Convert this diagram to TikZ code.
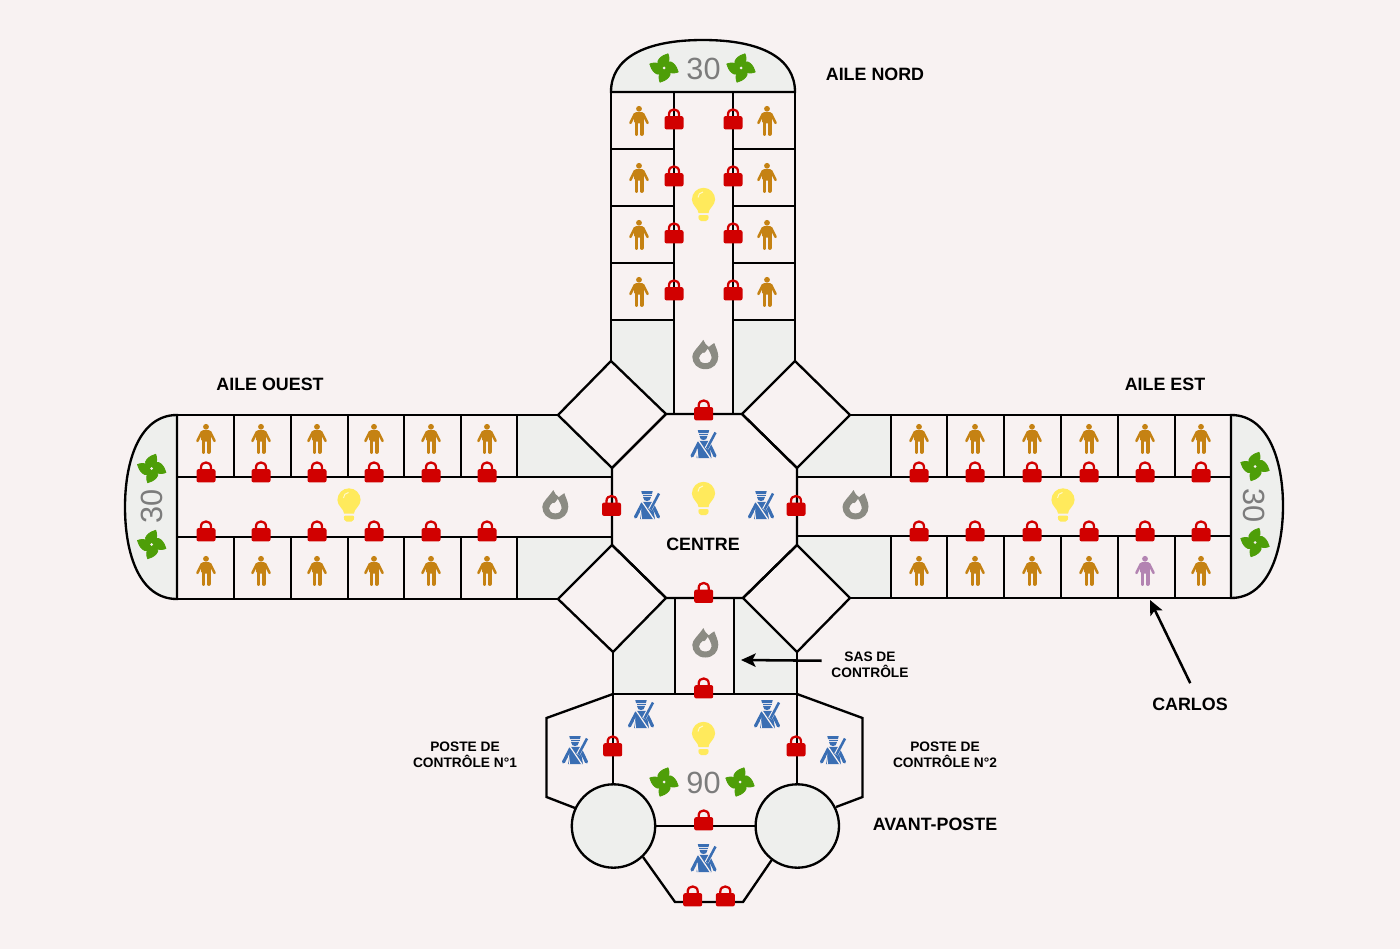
\documentclass[tikz,border=0pt]{standalone}
\usepackage{fontspec}
\setmainfont{Liberation Sans}
\usetikzlibrary{arrows.meta}

\definecolor{pagecolor}{HTML}{F8F2F2}
\definecolor{sascolor}{HTML}{EEEFED}
\definecolor{lockcolor}{HTML}{D10000}
\definecolor{personcolor}{HTML}{C58213}
\definecolor{carloscolor}{HTML}{B384B2}
\definecolor{bulbcolor}{HTML}{FFEA5C}
\definecolor{firecolor}{HTML}{8B8B83}
\definecolor{fancolor}{HTML}{4E9E08}
\definecolor{guardcolor}{HTML}{3A6EB3}
\definecolor{numbercolor}{HTML}{7C7C7C}

\tikzset{
  wall/.style={line width=1.75pt,line join=miter},
  wing/.style={wall,fill=sascolor},
  sasfill/.style={fill=sascolor,draw=none},
  wingtext/.style={inner sep=0.75pt,font=\bfseries\fontsize{13.4}{16}\selectfont},
  smalltext/.style={inner sep=0.75pt,align=center,font=\bfseries\fontsize{10.3}{12}\selectfont},
  numbertext/.style={inner sep=0pt,text=numbercolor,font=\fontsize{23}{24}\selectfont},
  arrowline/.style={line width=1.9pt,-{Stealth[length=11pt,width=10pt,inset=2.5pt]}},
  pics/lockicon/.style={code={
    \draw[lockcolor,line width=1.7pt] (-5,-1) -- (-5,-4.5) .. controls (-5,-11.2) and (5,-11.2) .. (5,-4.5) -- (5,-1);
    \fill[lockcolor,rounded corners=1.5pt] (-9.5,-2.9) rectangle (9.5,10.4);
  }},
  pics/personicon/.default=personcolor,
  pics/personicon/.style={code={
    \fill[#1] (0,-11.7) circle (2.9);
    \fill[#1,rounded corners=1.2pt] (-4.8,-8.3) rectangle (4.8,3);
    \draw[#1,line width=1.9pt,line cap=round] (-4,-6.8) -- (-8.6,2.5);
    \draw[#1,line width=1.9pt,line cap=round] (4,-6.8) -- (8.6,2.5);
    \draw[#1,line width=2.9pt,line cap=round] (-2.5,1) -- (-2.5,13.5);
    \draw[#1,line width=2.9pt,line cap=round] (2.6,1) -- (2.6,13.5);
  }},
  pics/bulbicon/.style={code={
    \fill[bulbcolor] (-5,8.5) -- (5,8.5) .. controls (5,4) and (11.6,1) .. (11.6,-5) .. controls (11.6,-11.5) and (6.4,-16.7) .. (0,-16.7) .. controls (-6.4,-16.7) and (-11.6,-11.5) .. (-11.6,-5) .. controls (-11.6,1) and (-5,4) .. (-5,8.5) -- cycle;
    \fill[bulbcolor,rounded corners=1.5pt] (-5.4,10.5) -- (5.4,10.5) -- (4.4,16.7) -- (-4.4,16.7) -- cycle;
    \draw[white!70!bulbcolor,line width=0.7pt] (-5.5,-7) .. controls (-5.5,-10) and (-3.5,-12) .. (-0.5,-12.5);
  }},
  pics/fireicon/.style={code={
    \fill[firecolor,even odd rule] (0,14.7) .. controls (-8,14.7) and (-13,9) .. (-13,2) .. controls (-13,-3) and (-7,-7) .. (-2,-14.7) .. controls (-1,-12) and (1,-9) .. (3.5,-7.5) .. controls (5,-9) and (7,-10) .. (9,-11.5) .. controls (10,-8) and (13,-3) .. (13,2) .. controls (13,9) and (8,14.7) .. (0,14.7) -- cycle
    (0,8.7) .. controls (-3.8,8.7) and (-6.3,6.5) .. (-6.3,3.7) .. controls (-6.3,1) and (-4,-0.5) .. (-2.5,-2) .. controls (-1,-0.5) and (1,-3.5) .. (2.5,-6) .. controls (4.5,-2.5) and (6.3,1) .. (6.3,3.7) .. controls (6.3,6.5) and (3.8,8.7) .. (0,8.7) -- cycle;
  }},
  pics/fanicon/.style={code={
    \foreach \bladeangle in {0,90,180,270}
      \filldraw[fancolor,line width=0.6pt,line join=round,rotate=\bladeangle] (0.5,0.5) .. controls (-7,-1) and (-7.5,-6.5) .. (-4.6,-9.3) .. controls (-2,-12) and (1,-13.5) .. (4,-14.2) .. controls (5.5,-11) and (5.5,-6) .. (2.7,-1.5) -- cycle;
    \fill[pagecolor] (0,0) circle (1.5);
  }},
  pics/guardicon/.style={code={
    \fill[guardcolor] (-5.7,-14.5) -- (5.7,-14.5) -- (5,-11.5) -- (-5,-11.5) -- cycle;
    \fill[guardcolor] (-4.5,-10.7) rectangle (4.5,-9.4);
    \fill[guardcolor] (-4,-8.6) -- (4,-8.6) .. controls (4,-5.5) and (2,-4.5) .. (0,-4.5) .. controls (-2,-4.5) and (-4,-5.5) .. (-4,-8.6) -- cycle;
    \fill[guardcolor] (-4.5,-3.6) -- (5,-3.6) -- (8,13.5) -- (-7,13.5) -- cycle;
    \draw[guardcolor,line width=2.4pt,line cap=round] (-4.5,-2) -- (-11.5,11.5);
    \draw[guardcolor,line width=2.4pt,line cap=round] (5,-2) -- (11.5,11.5);
    \draw[pagecolor,line width=0.9pt] (-4.8,-3.6) -- (7,13.8);
    \draw[pagecolor,line width=0.8pt] (-6.5,5) -- (-5.5,13.8);
    \draw[pagecolor,line width=3pt] (12,-12) -- (3,4);
    \draw[guardcolor,line width=1.9pt] (12,-12) -- (3.5,4);
  }}
}

\begin{document}
\begin{tikzpicture}[x=0.75pt,y=-0.75pt]
\fill[pagecolor] (0,0) rectangle (1400,949);
\useasboundingbox (0,0) rectangle (1400,949);

%Shape: gray corners north
\fill[sasfill] (611,320) -- (674,320) -- (674,414) -- (666,414) -- (611,361) -- cycle;
\fill[sasfill] (733,320) -- (795,320) -- (795,361) -- (742,414) -- (733,414) -- cycle;
%Shape: gray corners west
\fill[sasfill] (517,415) -- (558,415) -- (612,468) -- (612,477) -- (517,477) -- cycle;
\fill[sasfill] (517,537) -- (612,537) -- (612,545) -- (558,599) -- (517,599) -- cycle;
%Shape: gray corners east
\fill[sasfill] (891,415) -- (850,415) -- (797,468) -- (797,477) -- (891,477) -- cycle;
\fill[sasfill] (891,536) -- (797,536) -- (797,545) -- (850,598) -- (891,598) -- cycle;
%Shape: gray corners south
\fill[sasfill] (675,598) -- (675,694) -- (613,694) -- (613,652) -- (666,598) -- cycle;
\fill[sasfill] (734,598) -- (734,694) -- (797,694) -- (797,652) -- (743,598) -- cycle;

%Curve Lines: wing ends
\draw[wing] (611,92) .. controls (611,58) and (645,40) .. (703,40) .. controls (761,40) and (795,58) .. (795,92) -- cycle;
\draw[wing] (177,415) .. controls (140,415) and (125,460) .. (125,507) .. controls (125,555) and (140,599) .. (177,599) -- cycle;
\draw[wing] (1231,415) .. controls (1268,415) and (1283,460) .. (1283,506) .. controls (1283,552) and (1268,598) .. (1231,598) -- cycle;

%Straight Lines: north wing
\draw[wall] (611,92) -- (611,361);
\draw[wall] (795,92) -- (795,361);
\draw[wall] (674,92) -- (674,414);
\draw[wall] (733,92) -- (733,414);
\draw[wall] (611,149) -- (674,149);
\draw[wall] (611,206) -- (674,206);
\draw[wall] (611,263) -- (674,263);
\draw[wall] (611,320) -- (674,320);
\draw[wall] (733,149) -- (795,149);
\draw[wall] (733,206) -- (795,206);
\draw[wall] (733,263) -- (795,263);
\draw[wall] (733,320) -- (795,320);

%Straight Lines: west wing
\draw[wall] (177,415) -- (558,415);
\draw[wall] (177,477) -- (612,477);
\draw[wall] (177,537) -- (612,537);
\draw[wall] (177,599) -- (558,599);
\draw[wall] (234,415) -- (234,477);
\draw[wall] (291,415) -- (291,477);
\draw[wall] (348,415) -- (348,477);
\draw[wall] (404,415) -- (404,477);
\draw[wall] (461,415) -- (461,477);
\draw[wall] (517,415) -- (517,477);
\draw[wall] (234,537) -- (234,599);
\draw[wall] (291,537) -- (291,599);
\draw[wall] (348,537) -- (348,599);
\draw[wall] (404,537) -- (404,599);
\draw[wall] (461,537) -- (461,599);
\draw[wall] (517,537) -- (517,599);

%Straight Lines: east wing
\draw[wall] (850,415) -- (1231,415);
\draw[wall] (797,477) -- (1231,477);
\draw[wall] (797,536) -- (1231,536);
\draw[wall] (850,598) -- (1231,598);
\draw[wall] (891,415) -- (891,477);
\draw[wall] (947,415) -- (947,477);
\draw[wall] (1004,415) -- (1004,477);
\draw[wall] (1061,415) -- (1061,477);
\draw[wall] (1118,415) -- (1118,477);
\draw[wall] (1175,415) -- (1175,477);
\draw[wall] (891,536) -- (891,598);
\draw[wall] (947,536) -- (947,598);
\draw[wall] (1004,536) -- (1004,598);
\draw[wall] (1061,536) -- (1061,598);
\draw[wall] (1118,536) -- (1118,598);
\draw[wall] (1175,536) -- (1175,598);

%Shape: centre and its four diamonds
\draw[wall] (666,414) -- (742,414) -- (797,468) -- (797,545) -- (743,598) -- (666,598) -- (612,545) -- (612,468) -- cycle;
\draw[wall] (558,415) -- (611,361) -- (666,414) -- (612,468) -- cycle;
\draw[wall] (742,414) -- (795,361) -- (850,415) -- (797,468) -- cycle;
\draw[wall] (558,599) -- (612,545) -- (666,598) -- (613,652) -- cycle;
\draw[wall] (743,598) -- (797,545) -- (850,598) -- (797,652) -- cycle;

%Straight Lines: south sas and outpost
\draw[wall] (675,598) -- (675,694);
\draw[wall] (734,598) -- (734,694);
\draw[wall] (613,652) -- (613,785);
\draw[wall] (797,652) -- (797,785);
\draw[wall] (613,694) -- (797,694);
\draw[wall] (613,694) -- (546.5,718) -- (546.5,797) -- (575,808);
\draw[wall] (797,694) -- (862.5,718) -- (862.5,797) -- (836,807);
\draw[wall] (650,826) -- (760,826);
\draw[wall] (643,857) -- (675,902) -- (743,902) -- (771.7,860);
%Shape: Circle
\draw[wing] (613.5,826) circle (41.7);
\draw[wing] (797.3,826) circle (41.7);

%Locks
\pic at (674,119) {lockicon}; \pic at (733,119) {lockicon};
\pic at (674,176) {lockicon}; \pic at (733,176) {lockicon};
\pic at (674,233) {lockicon}; \pic at (733,233) {lockicon};
\pic at (674,290) {lockicon}; \pic at (733,290) {lockicon};
\pic at (703.7,410) {lockicon}; \pic at (703.7,592.5) {lockicon};
\pic at (611.5,505.5) {lockicon}; \pic at (796,505.5) {lockicon};
\pic at (206,472) {lockicon}; \pic at (261,472) {lockicon}; \pic at (317,472) {lockicon};
\pic at (374,472) {lockicon}; \pic at (431,472) {lockicon}; \pic at (487,472) {lockicon};
\pic at (206,531) {lockicon}; \pic at (261,531) {lockicon}; \pic at (317,531) {lockicon};
\pic at (374,531) {lockicon}; \pic at (431,531) {lockicon}; \pic at (487,531) {lockicon};
\pic at (919,472) {lockicon}; \pic at (975,472) {lockicon}; \pic at (1032,472) {lockicon};
\pic at (1089,472) {lockicon}; \pic at (1145,472) {lockicon}; \pic at (1201,472) {lockicon};
\pic at (919,531) {lockicon}; \pic at (975,531) {lockicon}; \pic at (1032,531) {lockicon};
\pic at (1089,531) {lockicon}; \pic at (1145,531) {lockicon}; \pic at (1201,531) {lockicon};
\pic at (703.7,688) {lockicon}; \pic at (612.7,746) {lockicon}; \pic at (796,746) {lockicon};
\pic at (703.7,820) {lockicon}; \pic at (692.7,896) {lockicon}; \pic at (725.3,896) {lockicon};

%Persons
\pic at (639,120.5) {personicon}; \pic at (767,120.5) {personicon};
\pic at (639,177.5) {personicon}; \pic at (767,177.5) {personicon};
\pic at (639,234.5) {personicon}; \pic at (767,234.5) {personicon};
\pic at (639,291.5) {personicon}; \pic at (767,291.5) {personicon};
\pic at (206,438.5) {personicon}; \pic at (261,438.5) {personicon}; \pic at (317,438.5) {personicon};
\pic at (374,438.5) {personicon}; \pic at (431,438.5) {personicon}; \pic at (487,438.5) {personicon};
\pic at (206,570.5) {personicon}; \pic at (261,570.5) {personicon}; \pic at (317,570.5) {personicon};
\pic at (374,570.5) {personicon}; \pic at (431,570.5) {personicon}; \pic at (487,570.5) {personicon};
\pic at (919,438.5) {personicon}; \pic at (975,438.5) {personicon}; \pic at (1032,438.5) {personicon};
\pic at (1089,438.5) {personicon}; \pic at (1145,438.5) {personicon}; \pic at (1201,438.5) {personicon};
\pic at (919,570.5) {personicon}; \pic at (975,570.5) {personicon}; \pic at (1032,570.5) {personicon};
\pic at (1089,570.5) {personicon}; \pic at (1145,570.5) {personicon=carloscolor}; \pic at (1201,570.5) {personicon};

%Bulbs
\pic at (703.5,204.5) {bulbicon}; \pic at (349,505) {bulbicon}; \pic at (703.5,498.5) {bulbicon};
\pic at (1063,505) {bulbicon}; \pic at (703.5,738.5) {bulbicon};

%Fires
\pic at (705.3,354.5) {fireicon}; \pic at (555.3,504.7) {fireicon};
\pic at (855.5,504.7) {fireicon}; \pic at (705.3,642.8) {fireicon};

%Fans
\pic at (664,68) {fanicon}; \pic at (741,68) {fanicon};
\pic at (151.7,468.5) {fanicon}; \pic at (151.7,544.5) {fanicon};
\pic at (1255,466.5) {fanicon}; \pic at (1255,542.5) {fanicon};
\pic at (664,782) {fanicon}; \pic at (740,782) {fanicon};

%Guards
\pic at (703.5,444.5) {guardicon}; \pic at (647,505.5) {guardicon}; \pic at (761,505.5) {guardicon};
\pic at (641,714.5) {guardicon}; \pic at (767,714.5) {guardicon};
\pic at (575,750.5) {guardicon}; \pic at (833,750.5) {guardicon}; \pic at (703.5,858.5) {guardicon};

% Text Node
\node[numbertext] (nordnumber) at (703.5,68.5) {30};
\node[numbertext,rotate=90] (ouestnumber) at (152,506) {30};
\node[numbertext,rotate=-90] (estnumber) at (1254,506) {30};
\node[numbertext] (postenumber) at (703.5,782.5) {90};
% Text Node
\node[wingtext] (nordlabel) at (875,74) {AILE NORD};
\node[wingtext] (ouestlabel) at (270,384.5) {AILE OUEST};
\node[wingtext] (estlabel) at (1165,384.5) {AILE EST};
\node[wingtext] (centrelabel) at (703,544.3) {CENTRE};
\node[wingtext] (avantlabel) at (935,824.5) {AVANT-POSTE};
\node[wingtext] (carloslabel) at (1190,704) {CARLOS};
% Text Node
\node[smalltext] (saslabel) at (870,665) {SAS DE\\CONTRÔLE};
\node[smalltext] (poste1label) at (465,755) {POSTE DE\\CONTRÔLE N°1};
\node[smalltext] (poste2label) at (945,755) {POSTE DE\\CONTRÔLE N°2};

%Straight Lines: arrows
\coordinate (sastip) at (741,660);
\coordinate (carlostip) at (1150,600);
\draw[arrowline,shorten <=6.5pt] (saslabel.174) -- (sastip);
\draw[arrowline,shorten <=11pt] ([xshift=5pt]carloslabel.north) -- (carlostip);
\end{tikzpicture}
\end{document}
